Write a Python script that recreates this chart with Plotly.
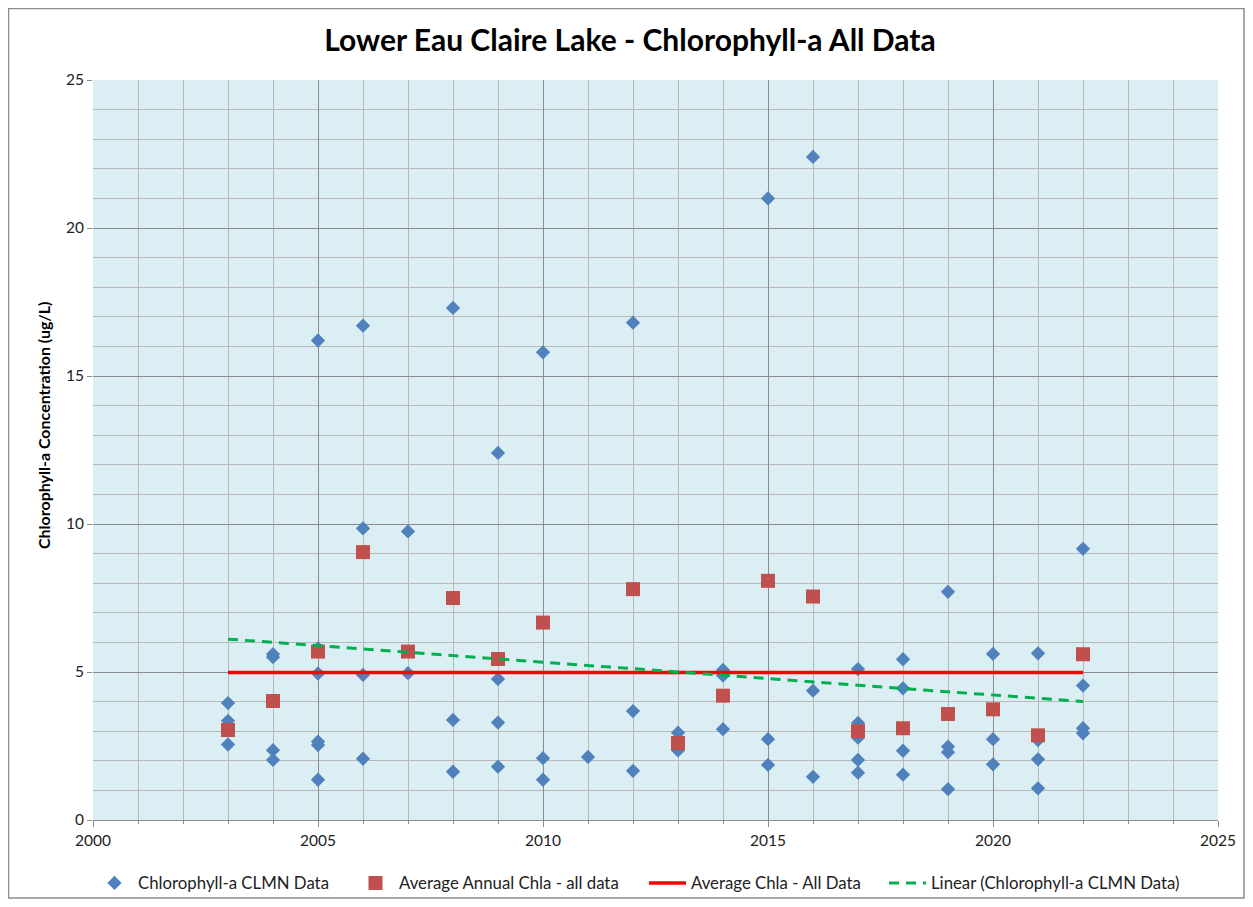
import plotly.graph_objects as go

# Individual CLMN samples (year, chlorophyll-a ug/L)
sample_years = [
    2003, 2003, 2003,
    2004, 2004, 2004, 2004,
    2005, 2005, 2005, 2005, 2005, 2005,
    2006, 2006, 2006, 2006,
    2007, 2007,
    2008, 2008, 2008,
    2009, 2009, 2009, 2009,
    2010, 2010, 2010,
    2011,
    2012, 2012, 2012,
    2013, 2013,
    2014, 2014, 2014,
    2015, 2015, 2015,
    2016, 2016, 2016,
    2017, 2017, 2017, 2017, 2017,
    2018, 2018, 2018, 2018,
    2019, 2019, 2019, 2019,
    2020, 2020, 2020,
    2021, 2021, 2021, 2021,
    2022, 2022, 2022, 2022,
]
sample_chla = [
    3.95, 3.35, 2.55,
    5.6, 5.5, 2.36, 2.03,
    16.2, 5.8, 4.95, 2.65, 2.53, 1.36,
    16.7, 9.85, 4.9, 2.07,
    9.75, 4.96,
    17.3, 3.38, 1.63,
    12.4, 4.76, 3.29, 1.8,
    15.8, 2.09, 1.36,
    2.13,
    16.8, 3.68, 1.66,
    2.95, 2.35,
    5.07, 4.88, 3.07,
    21.0, 2.73, 1.86,
    22.4, 4.37, 1.46,
    5.1, 3.28, 2.78, 2.03, 1.6,
    5.43, 4.45, 2.34, 1.53,
    7.71, 2.48, 2.29, 1.04,
    5.61, 2.73, 1.88,
    5.63, 2.7, 2.05, 1.07,
    9.16, 4.54, 3.1, 2.93,
]

# Annual averages
avg_years = [2003, 2004, 2005, 2006, 2007, 2008, 2009, 2010, 2012, 2013,
             2014, 2015, 2016, 2017, 2018, 2019, 2020, 2021, 2022]
avg_chla = [3.04, 4.02, 5.69, 9.05, 5.69, 7.5, 5.44, 6.67, 7.8, 2.6,
            4.2, 8.08, 7.55, 3.0, 3.1, 3.58, 3.74, 2.86, 5.6]

# Overall mean and linear trend
mean_years = [2003, 2022]
mean_chla = [4.98, 4.98]
trend_years = [2003, 2022]
trend_chla = [6.11, 4.0]

FONT = "Lato, 'Open Sans', sans-serif"

fig = go.Figure()
fig.add_trace(go.Scatter(
    x=sample_years, y=sample_chla, mode="markers",
    name="Chlorophyll-a CLMN Data", legend="legend",
    marker=dict(symbol="diamond", size=11, color="#4F81BD"),
))
fig.add_trace(go.Scatter(
    x=avg_years, y=avg_chla, mode="markers",
    name="Average Annual Chla - all data", legend="legend2",
    marker=dict(symbol="square", size=14, color="#C0504D"),
))
fig.add_trace(go.Scatter(
    x=mean_years, y=mean_chla, mode="lines",
    name="Average Chla - All Data", legend="legend3",
    line=dict(color="#FF0000", width=3.5),
))
fig.add_trace(go.Scatter(
    x=trend_years, y=trend_chla, mode="lines",
    name="Linear (Chlorophyll-a CLMN Data)", legend="legend4",
    line=dict(color="#00B050", width=3, dash="10px,7px"),
))


def legend_at(px):
    # px: page x of the legend box left edge
    return dict(
        orientation="h", x=(px - 93) / 1125, xanchor="left",
        y=(820 - 883) / 740, yanchor="middle", font=dict(size=16.8, color="#222"),
        bgcolor="rgba(0,0,0,0)", itemwidth=37,
    )


fig.update_layout(
    width=1237, height=891,
    margin=dict(l=85, r=27, t=72, b=79, autoexpand=False),
    paper_bgcolor="white",
    plot_bgcolor="#DBEEF3",
    font=dict(family=FONT, size=14, color="#222"),
    title=dict(
        text="<b>Lower Eau Claire Lake - Chlorophyll-a All Data</b>",
        x=(630 - 8) / 1237, xanchor="center", y=1 - 32 / 891, yanchor="middle",
        font=dict(size=30, color="black"),
    ),
    showlegend=True,
    legend=legend_at(91),
    legend2=legend_at(352),
    legend3=legend_at(644),
    legend4=legend_at(884),
    annotations=[dict(
        text="<b>Chlorophyll-a Concentration (ug/L)</b>",
        xref="paper", yref="paper", x=(43 - 93) / 1125, y=(820 - 425) / 740,
        xanchor="center", yanchor="middle", textangle=-90, showarrow=False,
        font=dict(size=16, color="black"),
    )],
    shapes=[dict(
        type="rect", xref="paper", yref="paper",
        x0=(8.5 - 93) / 1125, x1=(1244 - 93) / 1125,
        y0=(820 - 898) / 740, y1=(820 - 8.5) / 740,
        line=dict(color="#8C8C8C", width=1.5),
    )],
)

fig.update_xaxes(
    range=[2000, 2025], dtick=5, tick0=2000,
    showgrid=True, gridcolor="#8C8C8C", gridwidth=1,
    ticks="outside", ticklen=6, tickcolor="#8C8C8C",
    showline=True, linecolor="#8C8C8C", mirror=False,
    zeroline=False,
    tickfont=dict(size=15.5),
    minor=dict(dtick=1, showgrid=True, gridcolor="#B8B8B8", gridwidth=1,
               ticks="outside", ticklen=3, tickcolor="#8C8C8C"),
)
fig.update_yaxes(
    range=[0, 25], dtick=5,
    showgrid=True, gridcolor="#8C8C8C", gridwidth=1,
    ticks="outside", ticklen=5, tickcolor="#8C8C8C",
    showline=False, zeroline=False,
    tickfont=dict(size=15.5),
    minor=dict(dtick=1, showgrid=True, gridcolor="#B8B8B8", gridwidth=1),
)

fig.write_html("out.html")
